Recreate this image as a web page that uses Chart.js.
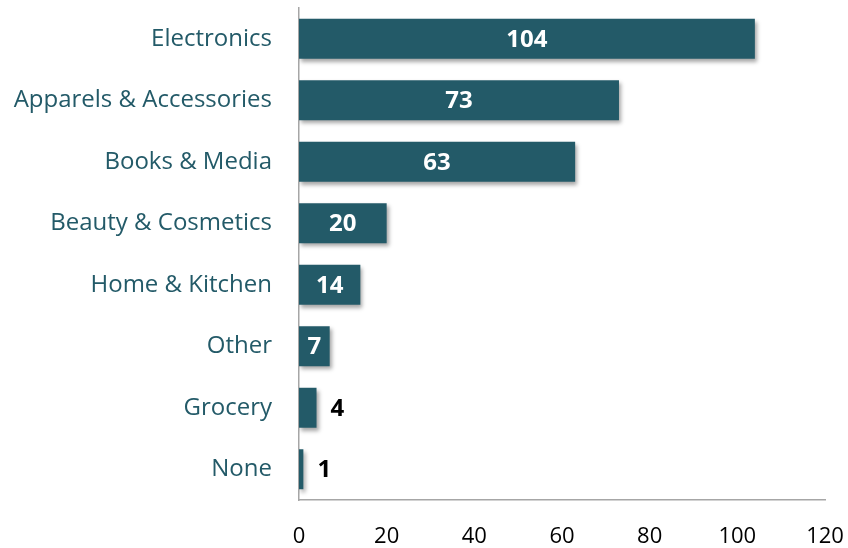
<!DOCTYPE html>
<html lang="en">
<head>
    <meta charset="UTF-8">
    <title>Purchases by Category</title>
    <style>
        body {
            margin: 0;
            padding: 0;
            background-color: #fff;
        }

        #wrap {
            width: 848px;
            height: 548px;
        }
    </style>
</head>
<body>
    <div id="wrap">
        <canvas id="chart"></canvas>
    </div>

    <script src="https://cdn.jsdelivr.net/npm/chart.js"></script>
    <script>
        const categories = ['Electronics', 'Apparels & Accessories', 'Books & Media', 'Beauty & Cosmetics',
            'Home & Kitchen', 'Other', 'Grocery', 'None'];
        const counts = [104, 73, 63, 20, 14, 7, 4, 1];
        const xTicks = [0, 20, 40, 60, 80, 100, 120];

        const barColor = '#235a68';
        const labelColor = '#235a68';

        // soft drop shadow under the bars
        const barShadow = {
            id: 'barShadow',
            beforeDatasetsDraw(chart) {
                const ctx = chart.ctx;
                ctx.save();
                ctx.shadowColor = 'rgba(0, 0, 0, 0.35)';
                ctx.shadowBlur = 4;
                ctx.shadowOffsetX = 2;
                ctx.shadowOffsetY = 3;
            },
            afterDatasetsDraw(chart) {
                chart.ctx.restore();
            }
        };

        // count written on each bar, outside the bar when it is too short
        const valueLabels = {
            id: 'valueLabels',
            afterDatasetsDraw(chart) {
                const ctx = chart.ctx;
                const meta = chart.getDatasetMeta(0);
                ctx.save();
                ctx.font = 'bold 24px "Open Sans", sans-serif';
                ctx.textBaseline = 'middle';
                meta.data.forEach((bar, i) => {
                    const text = String(counts[i]);
                    const w = bar.x - bar.base;
                    const tw = ctx.measureText(text).width;
                    if (w > tw + 6) {
                        ctx.fillStyle = '#ffffff';
                        ctx.textAlign = 'center';
                        ctx.fillText(text, (bar.x + bar.base) / 2, bar.y + 1);
                    } else {
                        ctx.fillStyle = '#000000';
                        ctx.textAlign = 'left';
                        ctx.fillText(text, bar.x + 14, bar.y + 1);
                    }
                });
                ctx.restore();
            }
        };

        new Chart(document.getElementById('chart'), {
            type: 'bar',
            data: {
                labels: categories,
                datasets: [{
                    data: counts,
                    backgroundColor: barColor,
                    borderWidth: 0,
                    barPercentage: 0.65,
                    categoryPercentage: 1
                }]
            },
            options: {
                indexAxis: 'y',
                responsive: true,
                maintainAspectRatio: false,
                animation: false,
                layout: {
                    padding: { top: 8, right: 23, bottom: 0, left: 0 }
                },
                plugins: {
                    legend: { display: false },
                    tooltip: { enabled: false }
                },
                scales: {
                    x: {
                        min: 0,
                        max: 120,
                        afterBuildTicks(scale) {
                            scale.ticks = xTicks.map(v => ({ value: v }));
                        },
                        afterFit(scale) {
                            scale.height = 48;
                            scale.paddingLeft = 0;
                            scale.paddingRight = 0;
                        },
                        grid: { display: false, drawTicks: false },
                        border: { display: true, color: '#a6a6a6', width: 1.5 },
                        ticks: {
                            color: '#000000',
                            padding: 24,
                            font: { family: '"Open Sans", sans-serif', size: 22 }
                        }
                    },
                    y: {
                        afterFit(scale) {
                            scale.width = 299;
                            scale.paddingTop = 0;
                            scale.paddingBottom = 0;
                        },
                        grid: { display: false, drawTicks: false },
                        border: { display: true, color: '#a6a6a6', width: 1.5 },
                        ticks: {
                            color: labelColor,
                            padding: 27,
                            font: { family: '"Open Sans", sans-serif', size: 24 }
                        }
                    }
                }
            },
            plugins: [barShadow, valueLabels]
        });
    </script>
</body>
</html>
